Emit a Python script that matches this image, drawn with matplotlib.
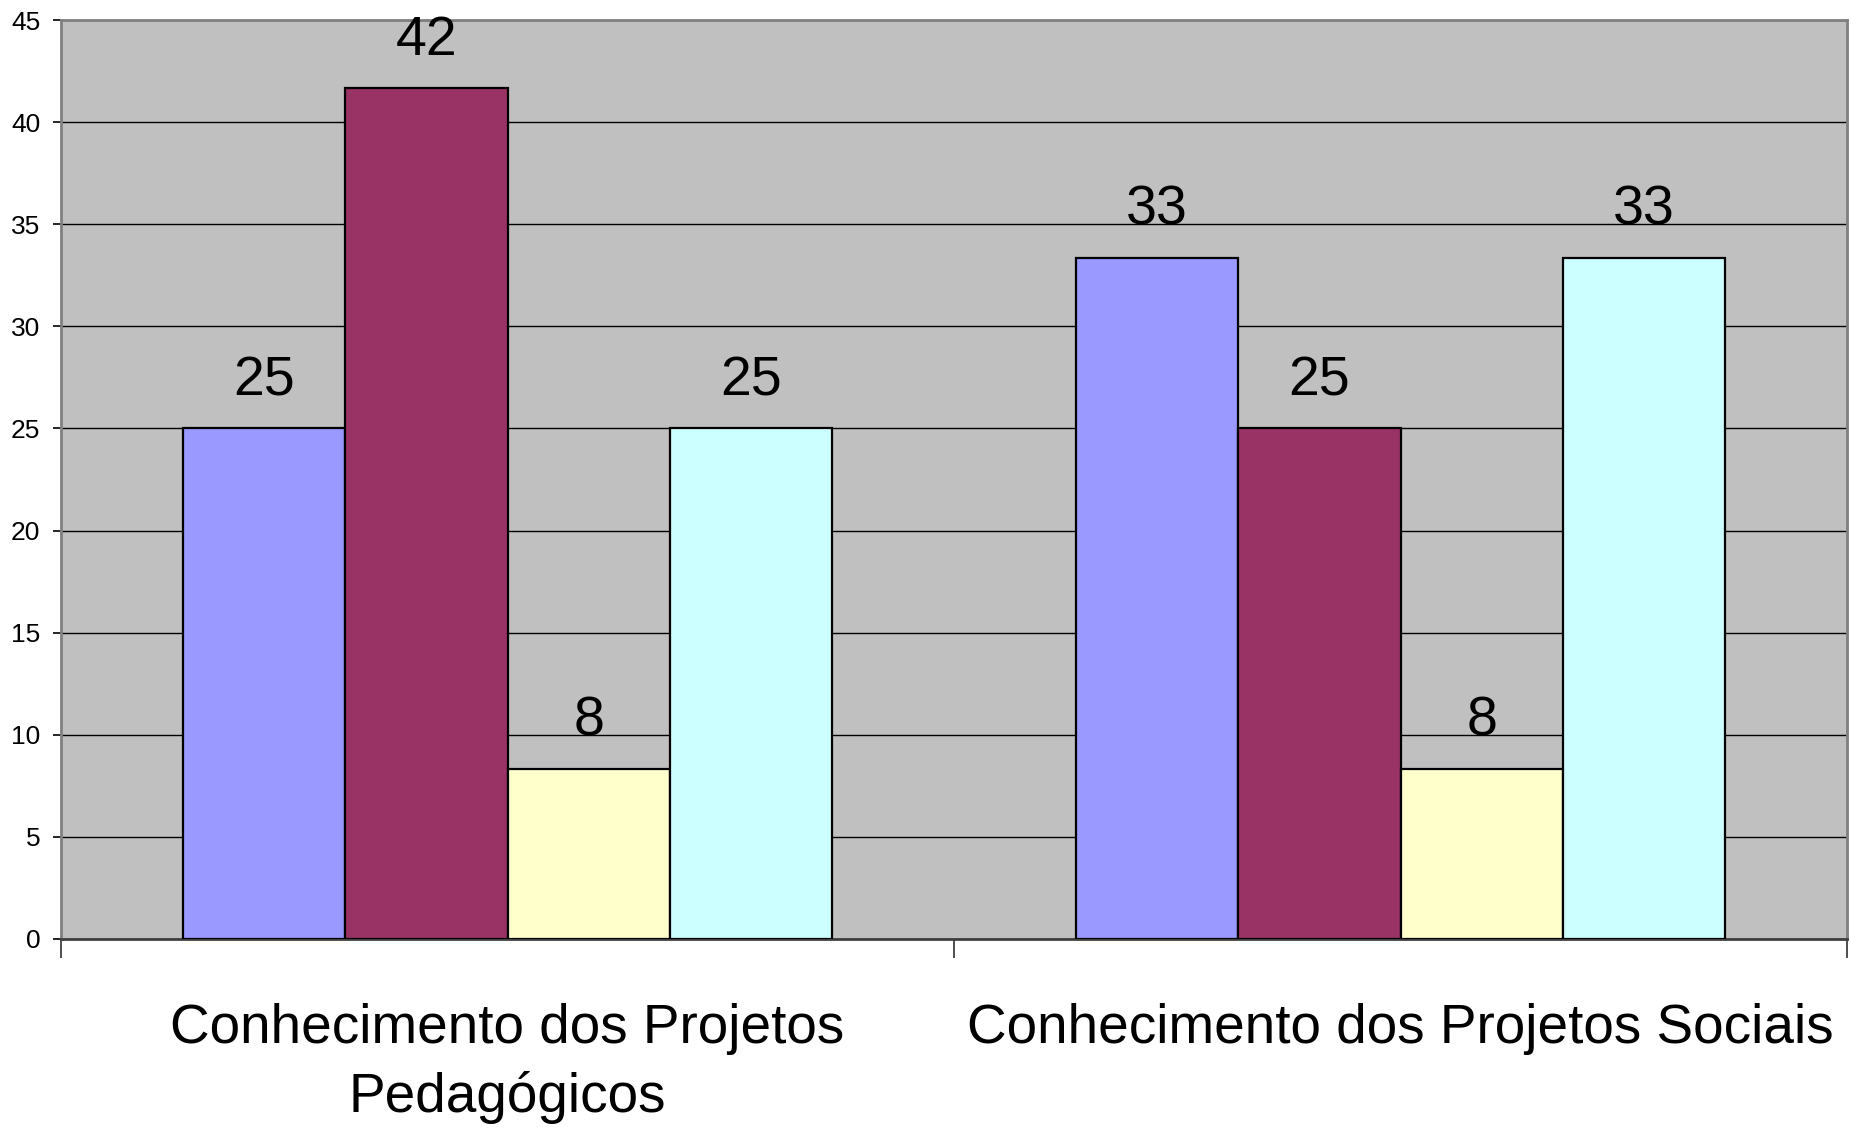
import numpy as np
import matplotlib
matplotlib.use("Agg")
import matplotlib.pyplot as plt

plt.rcParams['font.family'] = ['Liberation Sans', 'DejaVu Sans']

# data (percent)
categories = ["Conhecimento dos Projetos\nPedagógicos", "Conhecimento dos Projetos Sociais"]
serie_1 = [25.0, 33.33]
serie_2 = [41.67, 25.0]
serie_3 = [8.33, 8.33]
serie_4 = [25.0, 33.33]
series = [serie_1, serie_2, serie_3, serie_4]
colors = ['#9999FF', '#993366', '#FFFFCC', '#CCFFFF']
y_ticks = list(range(0, 50, 5))

fig = plt.figure(figsize=(18.51, 11.28), dpi=100)
ax = fig.add_axes([61 / 1851, 1 - 939 / 1128, (1847 - 61) / 1851, (939 - 20) / 1128])
ax.set_facecolor('#C0C0C0')

# excel style: gap width 150%
w = 1 / 5.5
centers = np.arange(len(categories)) + 0.5
for k, vals in enumerate(series):
    xs = centers + (k - 1.5) * w
    bars = ax.bar(xs, vals, width=w, color=colors[k], edgecolor='black',
                  linewidth=1.6, zorder=3)
    for b, v in zip(bars, vals):
        ax.annotate(f"{round(v)}", (b.get_x() + b.get_width() / 2, v),
                    xytext=(0, 24), textcoords='offset points',
                    ha='center', va='baseline', fontsize=40, color='black')

ax.set_xlim(0, len(categories))
ax.set_ylim(0, 45)
ax.set_yticks(y_ticks)
ax.tick_params(axis='y', labelsize=19, length=6, width=1.2, pad=9, color='black')
ax.yaxis.grid(True, color='black', linewidth=1.0, zorder=1)
ax.set_axisbelow(True)

# category boundaries as major ticks, labels on minor ticks
ax.set_xticks(np.arange(len(categories) + 1))
ax.set_xticklabels([])
ax.set_xticks(centers, minor=True)
ax.set_xticklabels(categories, minor=True, fontsize=39.5, linespacing=1.39)
ax.tick_params(axis='x', which='major', length=14, width=1.2, color='#303030')
ax.tick_params(axis='x', which='minor', length=0, pad=46)

for side in ['top', 'right', 'left']:
    ax.spines[side].set_color('#808080')
    ax.spines[side].set_linewidth(2)
ax.spines['bottom'].set_color('#404040')
ax.spines['bottom'].set_linewidth(2)

fig.savefig('out.png', dpi=100)
